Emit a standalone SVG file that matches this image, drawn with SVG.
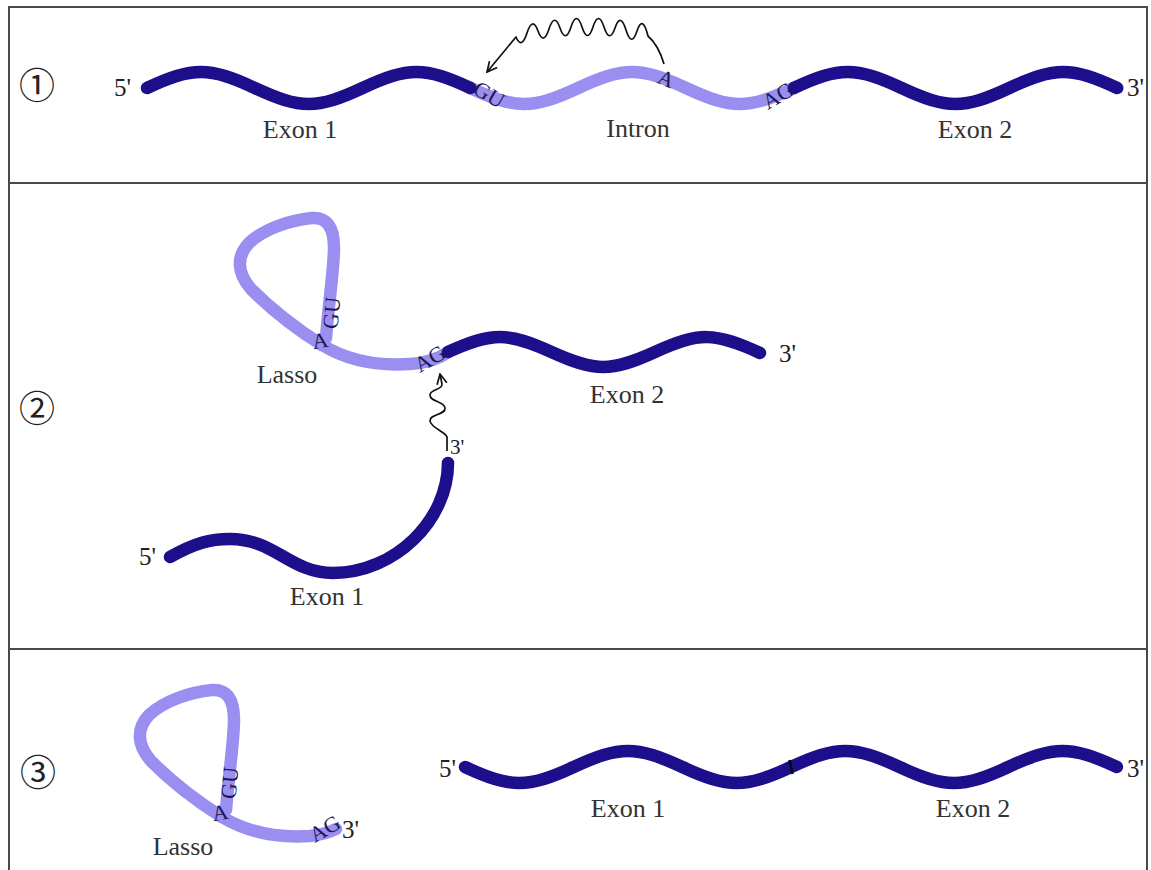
<svg xmlns="http://www.w3.org/2000/svg" width="1151" height="870" viewBox="0 0 1151 870">
  <style>
    .frame { fill: none; stroke: #4a4a4a; stroke-width: 2; }
    .exon { fill: none; stroke: #1d0e8c; stroke-width: 12.5; stroke-linecap: round; stroke-linejoin: round; }
    .intron { fill: none; stroke: #9a8ef0; stroke-width: 12.5; stroke-linecap: round; stroke-linejoin: round; }
    .lbl { font-family: "Liberation Serif", "Times New Roman", serif; font-size: 26px; fill: #333; }
    .end { font-family: "Liberation Serif", "Times New Roman", serif; font-size: 25px; fill: #222; }
    .site { font-family: "Liberation Serif", "Times New Roman", serif; font-size: 22px; fill: #1c1850; }
    .num { font-family: "Noto Sans CJK JP", "DejaVu Sans", sans-serif; font-size: 36px; fill: #222; }
    .squiggle { fill: none; stroke: #111; stroke-width: 1.7; stroke-linejoin: round; }
  </style>
  <defs>
    <marker id="arrow" viewBox="0 0 12 12" refX="11" refY="6" markerWidth="12" markerHeight="12" markerUnits="userSpaceOnUse" orient="auto">
      <path d="M1,1 L11,6 L1,11" fill="none" stroke="#111" stroke-width="1.7"/>
    </marker>
    <!-- lariat shape: branch-point loop plus 3' tail -->
    <path id="lariat-loop" d="M326,338 C329,300 334,268 334,248 C334,226 326,217 312,218 C290,220 264,229 249,243 C236,257 237,273 251,289 C270,308 295,328 322,345"/>
  </defs>

  <rect width="1151" height="870" fill="#fff"/>

  <!-- panel frames -->
  <g id="frames">
    <line class="frame" x1="8" y1="7" x2="1148" y2="7"/>
    <line class="frame" x1="8" y1="183" x2="1148" y2="183"/>
    <line class="frame" x1="8" y1="649" x2="1148" y2="649"/>
    <line class="frame" x1="9" y1="6" x2="9" y2="870"/>
    <line class="frame" x1="1147" y1="6" x2="1147" y2="870"/>
  </g>

  <!-- step numbers -->
  <g id="step-numbers">
    <text class="num" x="37" y="99" text-anchor="middle">①</text>
    <text class="num" x="37" y="422" text-anchor="middle">②</text>
    <text class="num" x="38" y="786" text-anchor="middle">③</text>
  </g>

  <!-- Step 1: pre-mRNA -->
  <g id="pre-mrna">
    <path class="intron" d="M470.4,88 C516.1,109.3 532.5,109.3 578.2,88 S640.3,66.7 686,88 S748.1,109.3 793.8,88"/>
    <path class="exon" d="M147,88 C192.7,66.7 209.1,66.7 254.8,88 S316.9,109.3 362.6,88 S424.7,66.7 470.4,88"/>
    <path class="exon" d="M793.8,88 C839.5,66.7 855.9,66.7 901.6,88 S963.7,109.3 1009.4,88 S1071.5,66.7 1117.2,88"/>
    <text class="site" transform="translate(489,95) rotate(30)" text-anchor="middle" dy="7">GU</text>
    <text class="site" transform="translate(666,79) rotate(22)" text-anchor="middle" dy="7">A</text>
    <text class="site" transform="translate(778,96) rotate(-30)" text-anchor="middle" dy="7">AG</text>
    <text class="end" x="114" y="96">5'</text>
    <text class="end" x="1127" y="96">3'</text>
    <text class="lbl" x="300" y="138" text-anchor="middle">Exon 1</text>
    <text class="lbl" x="638" y="137" text-anchor="middle">Intron</text>
    <text class="lbl" x="975" y="138" text-anchor="middle">Exon 2</text>
  </g>

  <!-- Step 2: lariat intermediate with exon 2 -->
  <g id="lariat-exon2">
    <use href="#lariat-loop" class="intron"/>
    <path class="intron" d="M322,345 C350,362 380,366 410,364 C428,363 440,358 448,352"/>
    <path class="exon" d="M448,352 C491.9,332 507.6,332 551.5,352 S611.1,372 655,352 S714.6,332 760,353"/>
    <text class="site" transform="translate(332,313) rotate(-85)" text-anchor="middle" dy="7">GU</text>
    <text class="site" transform="translate(320,341) rotate(-10)" text-anchor="middle" dy="7">A</text>
    <text class="site" transform="translate(430,359) rotate(-30)" text-anchor="middle" dy="7">AG</text>
    <text class="end" x="779" y="362">3'</text>
    <text class="lbl" x="287" y="383" text-anchor="middle">Lasso</text>
    <text class="lbl" x="627" y="403" text-anchor="middle">Exon 2</text>
  </g>

  <!-- Step 2: free exon 1 -->
  <g id="free-exon1">
    <path class="exon" d="M170,557 C195,543 210,539 230,539 C275,539 290,573 333,573 C395,573 448,520 448,463"/>
    <text class="end" x="139" y="565">5'</text>
    <text class="end" x="450" y="454" style="font-size:21px">3'</text>
    <text class="lbl" x="327" y="605" text-anchor="middle">Exon 1</text>
  </g>

  <!-- Step 3: released lasso -->
  <g id="lasso">
    <g transform="translate(-100,472)">
      <use href="#lariat-loop" class="intron"/>
      <path class="intron" d="M322,345 C350,362 380,366 410,364 C420,363 428,361 436,357"/>
    </g>
    <text class="site" transform="translate(230,783) rotate(-85)" text-anchor="middle" dy="7">GU</text>
    <text class="site" transform="translate(220,813) rotate(-10)" text-anchor="middle" dy="7">A</text>
    <text class="site" transform="translate(325,829) rotate(-30)" text-anchor="middle" dy="7">AG</text>
    <text class="end" x="342" y="838">3'</text>
    <text class="lbl" x="183" y="855" text-anchor="middle">Lasso</text>
  </g>

  <!-- Step 3: spliced mRNA -->
  <g id="mrna">
    <path class="exon" d="M465,767 C511.1,788.3 527.6,788.3 573.7,767 S636.2,745.7 682.3,767 S744.9,788.3 791,767 S853.5,745.7 899.6,767 S962.2,788.3 1008.3,767 S1070.8,745.7 1116.9,767"/>
    <line x1="789.5" y1="760" x2="792.5" y2="774" stroke="#000" stroke-width="2.5"/>
    <text class="end" x="439" y="777">5'</text>
    <text class="end" x="1127" y="777">3'</text>
    <text class="lbl" x="628" y="817" text-anchor="middle">Exon 1</text>
    <text class="lbl" x="973" y="817" text-anchor="middle">Exon 2</text>
  </g>

  <!-- attack arrows -->
  <g id="connectors">
    <path class="squiggle" marker-end="url(#arrow)" d="M664,64 C661,54 655,42 648,36 Q642.5,14 637,31 T626,30 T615,28 T604,27 T593,27 T582,27 T571,27 T560,28 T549,29 T538,31 T527,33 T516,37 L487,72"/>
    <path class="squiggle" marker-end="url(#arrow)" d="M447,451 L447,437 C446,432 431,428 430,421 C429,414 446,415 445,408 C444,401 430,402 430,395 C430,389 443,390 442,384 L440,374"/>
  </g>
</svg>
